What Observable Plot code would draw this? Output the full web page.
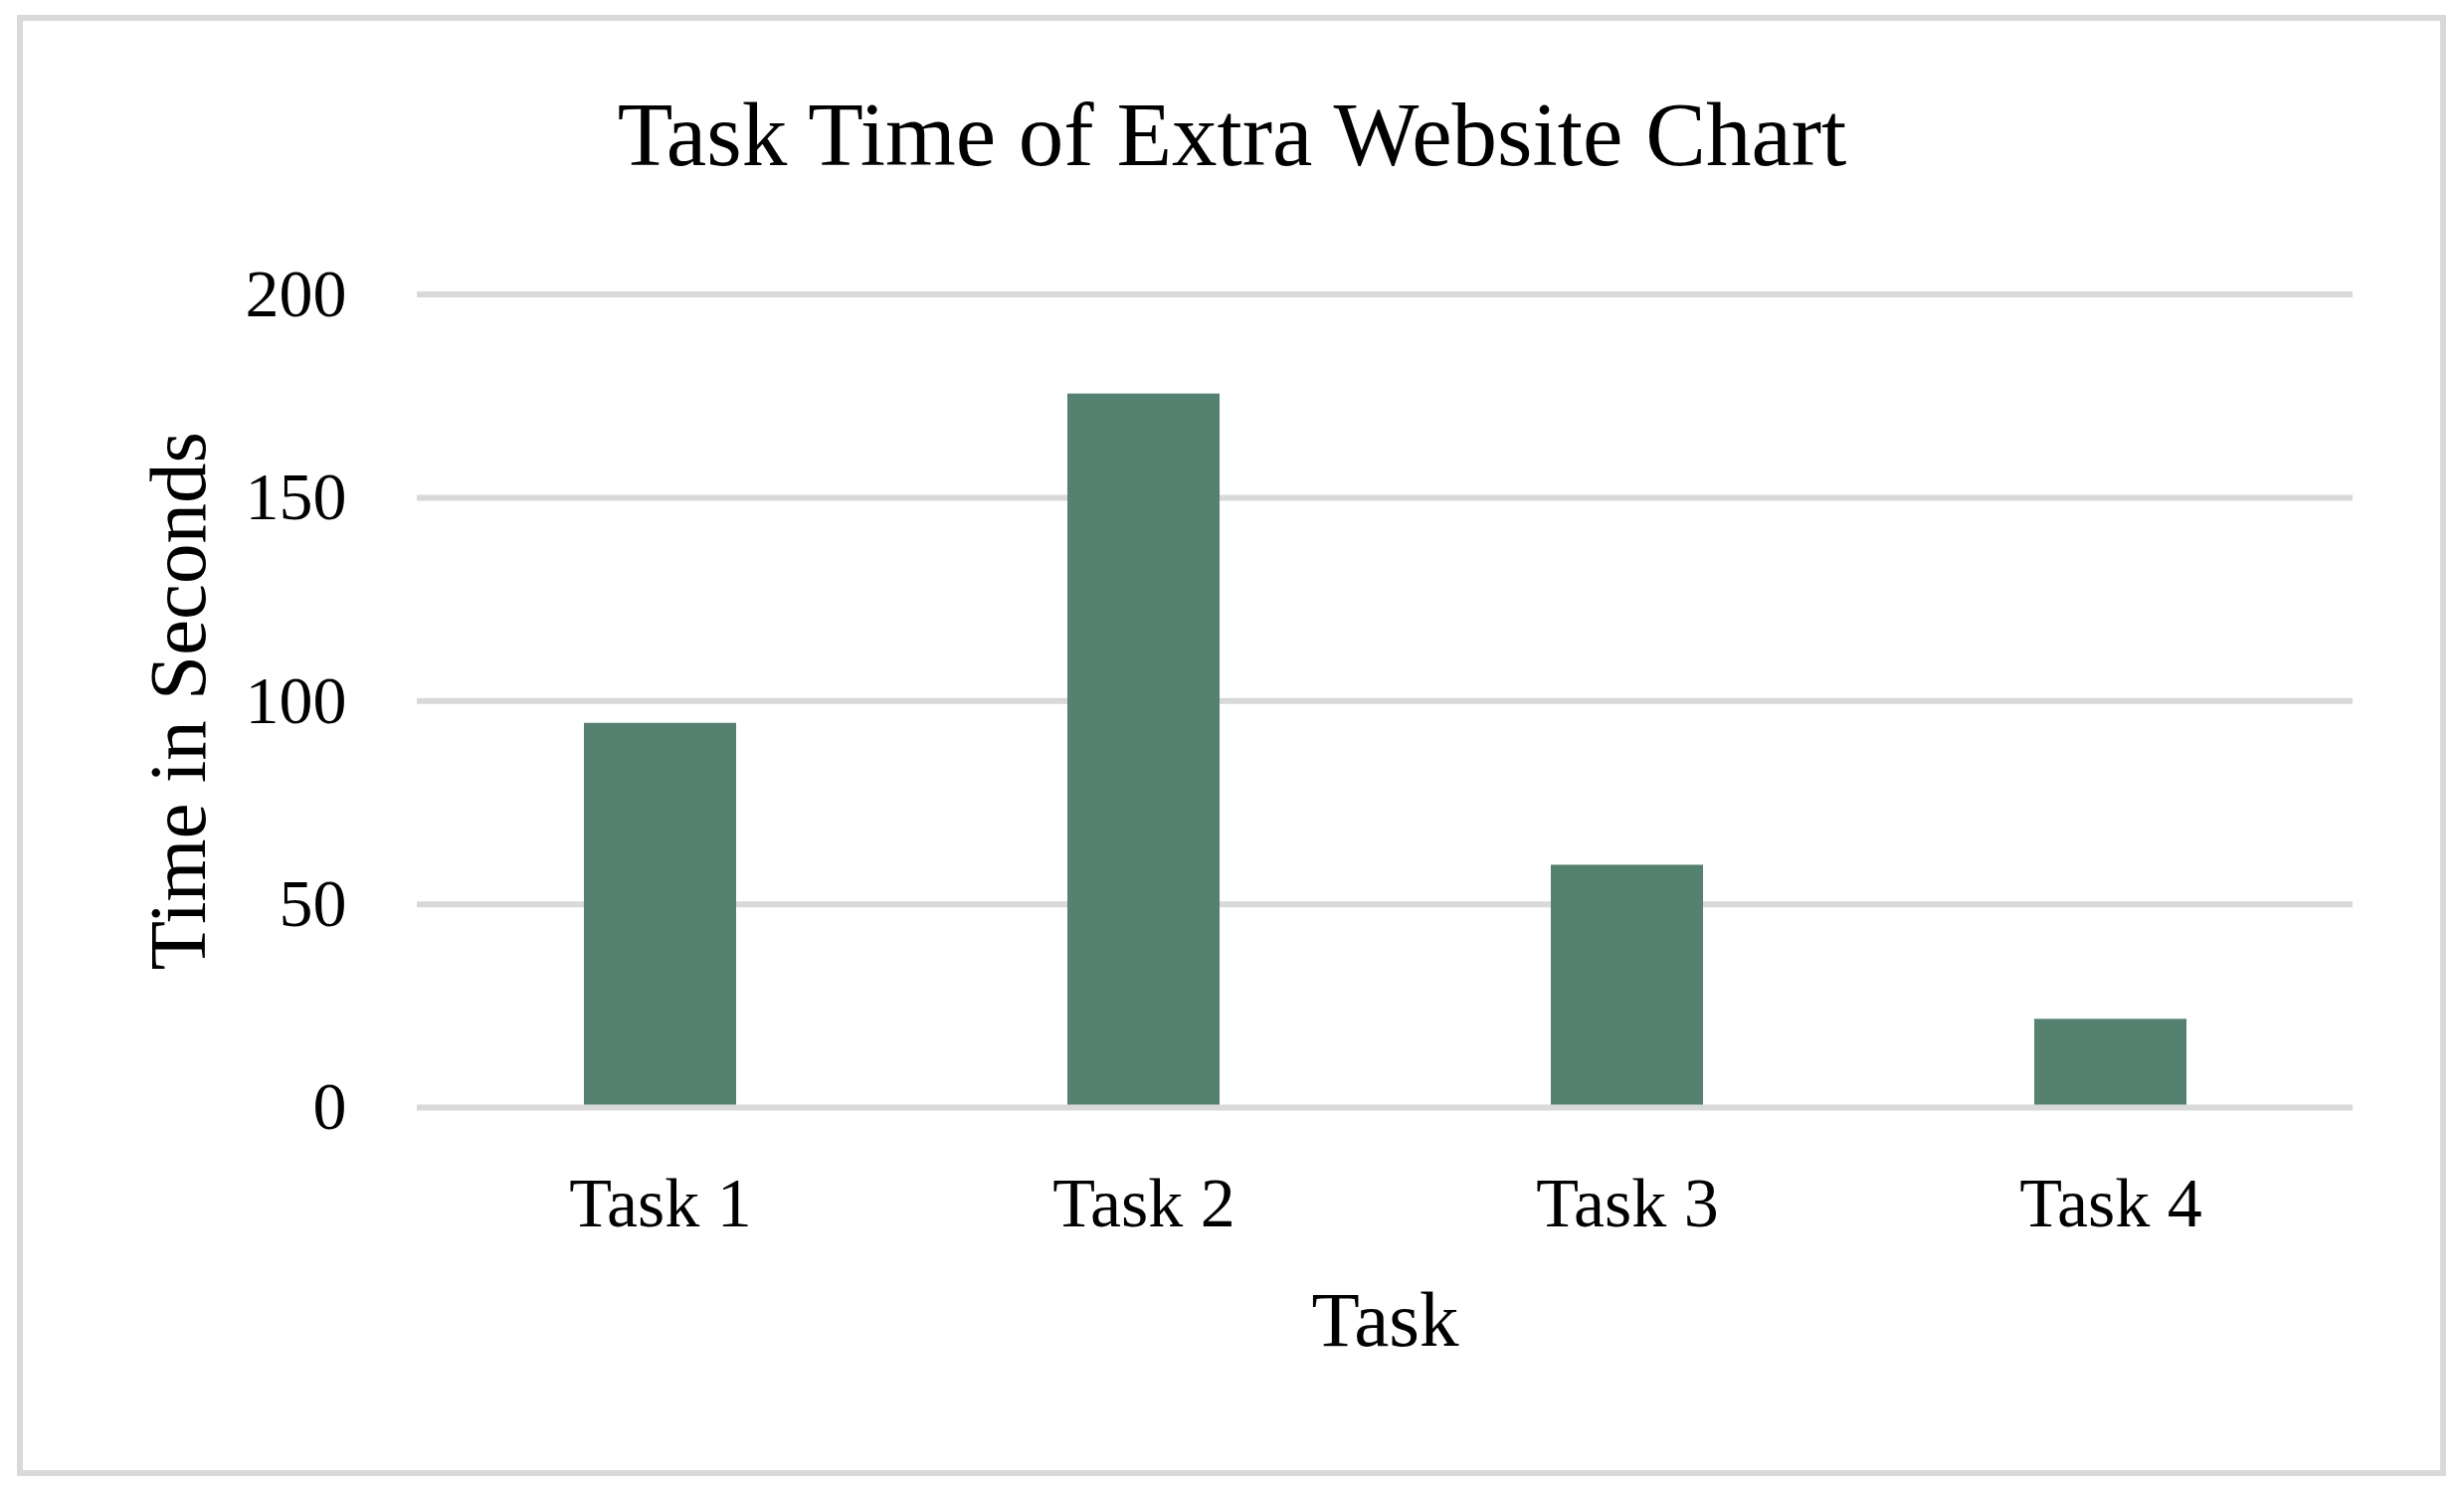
<!DOCTYPE html>
<html>
<head>
<meta charset="utf-8">
<script src="https://cdn.jsdelivr.net/npm/d3@7"></script>
<script src="https://cdn.jsdelivr.net/npm/@observablehq/plot@0.6"></script>
<style>
  html, body { margin: 0; padding: 0; background: #fff; }
  #page { position: relative; width: 2477px; height: 1495px; overflow: hidden; background: #fff; }
  #frame { position: absolute; left: 17px; top: 15px; width: 2442px; height: 1469px; border: 6px solid #d9d9d9; box-sizing: border-box; }
  #title { position: absolute; left: 0; width: 2477px; top: 91px; text-align: center; font-family: "Liberation Serif", serif; font-size: 91px; line-height: 90px; color: #000; white-space: nowrap; }
  #chart { position: absolute; left: 0; top: 220px; }
</style>
</head>
<body>
<div id="page">
  <div id="frame"></div>
  <div id="title">Task Time of Extra Website Chart</div>
  <div id="chart"></div>
</div>
<script>
const tasks = ["Task 1", "Task 2", "Task 3", "Task 4"];
const seconds = [94.5, 175.5, 59.6, 21.7];
const yTicks = [0, 50, 100, 150, 200];
const yTitle = "Time in Seconds";
const xTitle = "Task";

const data = tasks.map((t, i) => ({task: t, seconds: seconds[i]}));

const chart = Plot.plot({
  width: 2477,
  height: 1250,
  marginLeft: 419,
  marginRight: 112,
  marginTop: 75.5,
  marginBottom: 357,
  style: {fontFamily: "'Liberation Serif', serif", background: "transparent", color: "#000"},
  x: {domain: tasks, paddingInner: 0.686, paddingOuter: 0.343, label: null},
  y: {domain: [0, 200], ticks: yTicks, label: null},
  marks: [
    Plot.ruleY(yTicks.filter(d => d > 0), {stroke: "#d9d9d9", strokeWidth: 6}),
    Plot.barY(data, {x: "task", y: "seconds", fill: "#558270"}),
    Plot.ruleY([0], {stroke: "#d9d9d9", strokeWidth: 6}),
    Plot.axisX({tickSize: 0, tickPadding: 70, fontSize: 70, label: null}),
    Plot.axisY({ticks: yTicks, tickSize: 0, tickPadding: 71, fontSize: 68, label: null}),
    Plot.text([yTitle], {text: d => d, frameAnchor: "left", textAnchor: "middle", rotate: -90, dx: -214, lineAnchor: "bottom", fontSize: 81}),
    Plot.text([xTitle], {text: d => d, frameAnchor: "bottom", textAnchor: "middle", dy: 239, lineAnchor: "bottom", fontSize: 79})
  ]
});
document.getElementById("chart").appendChild(chart);
</script>
</body>
</html>
